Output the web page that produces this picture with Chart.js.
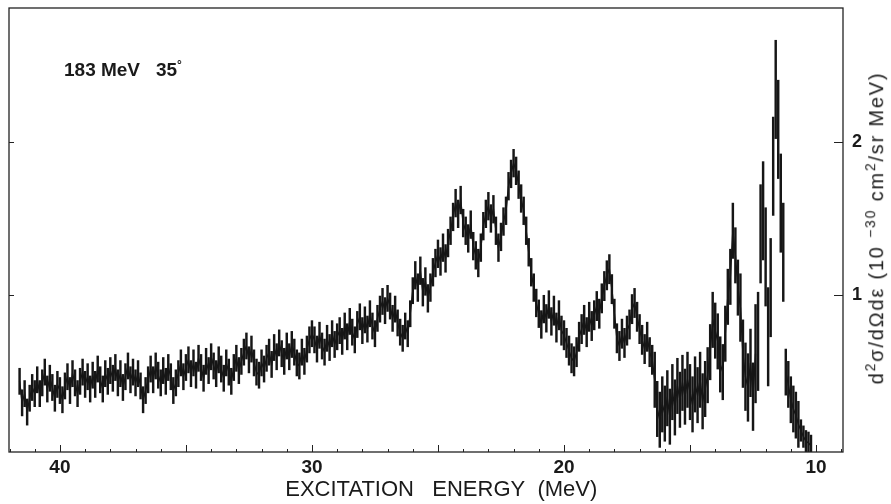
<!DOCTYPE html>
<html>
<head>
<meta charset="utf-8">
<script src="https://cdn.jsdelivr.net/npm/chart.js@4"></script>
<style>
  html, body { margin: 0; padding: 0; background: #fff; }
  #wrap { position: relative; width: 891px; height: 504px; }
  #note { position: absolute; left: 64px; top: 58px; font: bold 19px "Liberation Sans", Arial, sans-serif; color: #1a1a1a; white-space: pre; }
  #note sup { font-size: 12px; }
  #ytitle { position: absolute; left: 875px; top: 228px; transform: translate(-50%, -50%) rotate(-90deg);
            font: 20px "Liberation Sans", Arial, sans-serif; color: #1a1a1a; white-space: nowrap; letter-spacing: 1.8px; }
  #ytitle sup { font-size: 14px; }
</style>
</head>
<body>
<div id="wrap">
  <canvas id="c" width="891" height="504"></canvas>
  <div id="note">183 MeV   35<sup>°</sup></div>
  <div id="ytitle">d<sup>2</sup>σ/dΩdε (10 <sup>−30</sup> cm<sup>2</sup>/sr MeV)</div>
</div>
<script>
// Spectrum: excitation energy (MeV), cross section, error half-widths
const energies = [
  41.6,41.5,41.4,41.3,41.2,41.1,41.0,
  40.9,40.8,40.7,40.6,40.5,40.4,40.3,40.2,40.1,40.0,
  39.9,39.8,39.7,39.6,39.5,39.4,39.3,39.2,39.1,39.0,
  38.9,38.8,38.7,38.6,38.5,38.4,38.3,38.2,38.1,38.0,
  37.9,37.8,37.7,37.6,37.5,37.4,37.3,37.2,37.1,37.0,
  36.9,36.8,36.7,36.6,36.5,36.4,36.3,36.2,36.1,36.0,
  35.9,35.8,35.7,35.6,35.5,35.4,35.3,35.2,35.1,35.0,
  34.9,34.8,34.7,34.6,34.5,34.4,34.3,34.2,34.1,34.0,
  33.9,33.8,33.7,33.6,33.5,33.4,33.3,33.2,33.1,33.0,
  32.9,32.8,32.7,32.6,32.5,32.4,32.3,32.2,32.1,32.0,
  31.9,31.8,31.7,31.6,31.5,31.4,31.3,31.2,31.1,31.0,
  30.9,30.8,30.7,30.6,30.5,30.4,30.3,30.2,30.1,30.0,
  29.9,29.8,29.7,29.6,29.5,29.4,29.3,29.2,29.1,29.0,
  28.9,28.8,28.7,28.6,28.5,28.4,28.3,28.2,28.1,28.0,
  27.9,27.8,27.7,27.6,27.5,27.4,27.3,27.2,27.1,27.0,
  26.9,26.8,26.7,26.6,26.5,26.4,26.3,26.2,26.1,26.0,
  25.9,25.8,25.7,25.6,25.5,25.4,25.3,25.2,25.1,25.0,
  24.9,24.8,24.7,24.6,24.5,24.4,24.3,24.2,24.1,24.0,
  23.9,23.8,23.7,23.6,23.5,23.4,23.3,23.2,23.1,23.0,
  22.9,22.8,22.7,22.6,22.5,22.4,22.3,22.2,22.1,22.0,
  21.9,21.8,21.7,21.6,21.5,21.4,21.3,21.2,21.1,21.0,
  20.9,20.8,20.7,20.6,20.5,20.4,20.3,20.2,20.1,20.0,
  19.9,19.8,19.7,19.6,19.5,19.4,19.3,19.2,19.1,19.0,
  18.9,18.8,18.7,18.6,18.5,18.4,18.3,18.2,18.1,18.0,
  17.9,17.8,17.7,17.6,17.5,17.4,17.3,17.2,17.1,17.0,
  16.9,16.8,16.7,16.6,16.5,16.4,16.3,16.2,16.1,16.0,
  15.9,15.8,15.7,15.6,15.5,15.4,15.3,15.2,15.1,15.0,
  14.9,14.8,14.7,14.6,14.5,14.4,14.3,14.2,14.1,14.0,
  13.9,13.8,13.7,13.6,13.5,13.4,13.3,13.2,13.1,13.0,
  12.9,12.8,12.7,12.6,12.5,12.4,12.3,12.2,12.1,12.0,
  11.9,11.8,11.7,11.6,11.5,11.4,11.3,11.2,11.1,11.0,
  10.9,10.8,10.7,10.6,10.5,10.4,10.3,10.2
];
const sigma = [
  0.44,0.30,0.36,0.24,0.33,0.40,0.36,
  0.45,0.36,0.43,0.50,0.39,0.46,0.40,0.33,0.42,0.38,
  0.32,0.41,0.47,0.38,0.49,0.43,0.36,0.44,0.50,0.42,
  0.47,0.39,0.48,0.42,0.52,0.45,0.39,0.49,0.44,0.51,
  0.46,0.53,0.43,0.49,0.40,0.47,0.54,0.45,0.50,0.43,
  0.49,0.41,0.32,0.38,0.45,0.52,0.45,0.54,0.48,0.43,
  0.51,0.44,0.53,0.47,0.38,0.43,0.49,0.56,0.47,0.53,
  0.58,0.49,0.56,0.48,0.59,0.53,0.46,0.57,0.51,0.60,
  0.54,0.49,0.58,0.52,0.46,0.56,0.50,0.44,0.53,0.59,
  0.51,0.57,0.63,0.67,0.58,0.65,0.56,0.50,0.48,0.56,
  0.52,0.59,0.63,0.55,0.66,0.60,0.69,0.62,0.57,0.67,
  0.60,0.68,0.63,0.56,0.54,0.63,0.57,0.65,0.71,0.75,
  0.71,0.65,0.74,0.67,0.63,0.72,0.66,0.75,0.68,0.73,
  0.77,0.70,0.80,0.73,0.83,0.76,0.71,0.81,0.86,0.77,
  0.84,0.78,0.88,0.80,0.75,0.85,0.91,0.96,0.90,0.98,
  0.93,0.85,0.91,0.82,0.76,0.72,0.80,0.75,0.88,1.03,
  1.13,1.05,1.16,1.02,1.09,0.98,1.05,1.15,1.21,1.27,
  1.22,1.31,1.24,1.34,1.42,1.51,1.60,1.53,1.62,1.47,
  1.42,1.37,1.46,1.32,1.26,1.21,1.31,1.45,1.53,1.58,
  1.50,1.56,1.42,1.31,1.38,1.48,1.55,1.71,1.79,1.86,
  1.81,1.72,1.63,1.55,1.42,1.28,1.15,1.05,0.95,0.88,
  0.81,0.91,0.85,0.94,0.83,0.90,0.79,0.87,0.77,0.74,
  0.69,0.64,0.59,0.57,0.63,0.73,0.78,0.84,0.76,0.86,
  0.80,0.87,0.93,0.88,0.98,1.06,1.13,1.17,1.04,0.88,
  0.72,0.67,0.75,0.69,0.77,0.81,0.91,0.95,0.86,0.78,
  0.71,0.65,0.73,0.63,0.58,0.45,0.26,0.19,0.29,0.23,
  0.33,0.21,0.37,0.27,0.41,0.32,0.43,0.34,0.45,0.37,
  0.29,0.42,0.35,0.45,0.31,0.39,0.48,0.63,0.84,0.77,
  0.70,0.55,0.50,0.75,0.99,1.12,1.42,1.26,1.05,0.92,
  0.62,0.47,0.40,0.56,0.34,0.62,0.70,1.40,1.55,1.25,
  0.73,1.05,1.84,2.34,2.08,1.60,1.28,0.50,0.42,0.32,
  0.26,0.22,0.16,0.12,0.08,0.05,0.04,0.02
];
// error half-width by energy band (lower edge of band, MeV)
const errBandFrom = [26.0, 20.5, 16.5, 13.05, 12.45, 11.25, 10.65, 0];
const errBandSize = [0.085, 0.09, 0.095, 0.18, 0.22, 0.32, 0.15, 0.07];

const xTickValues = [9,10,11,12,13,14,15,16,17,18,19,20,21,22,23,24,25,26,27,28,29,30,31,32,33,34,35,36,37,38,39,40,41,42];
const xLabelValues = [10, 20, 30, 40];
const yTickValues = [1, 2];

function errFor(e) {
  for (let i = 0; i < errBandFrom.length; i++) if (e >= errBandFrom[i]) return errBandSize[i];
  return errBandSize[errBandSize.length - 1];
}

const ink = "#161616";
const centers = energies.map((e, i) => ({ x: e, y: sigma[i] }));
const bars = energies.map((e, i) => ({ x: e, y: [sigma[i] - errFor(e), sigma[i] + errFor(e)] }));

// frame + inward tick marks, placed through the chart's scales
const frameTicks = {
  id: "frameTicks",
  afterDatasetsDraw(chart) {
    const { ctx, chartArea: a, scales: { x, y } } = chart;
    ctx.save();
    ctx.strokeStyle = "#222";
    ctx.lineWidth = 1.3;
    ctx.strokeRect(a.left, a.top, a.right - a.left, a.bottom - a.top);
    ctx.lineWidth = 1;
    ctx.beginPath();
    xTickValues.forEach(v => {
      const px = Math.round(x.getPixelForValue(v)) + 0.5;
      const len = v % 5 === 0 ? 7 : 3;
      ctx.moveTo(px, a.bottom); ctx.lineTo(px, a.bottom - len);
    });
    yTickValues.forEach(v => {
      const py = Math.round(y.getPixelForValue(v)) + 0.5;
      ctx.moveTo(a.right, py); ctx.lineTo(a.right - 9, py);
      ctx.moveTo(a.left, py); ctx.lineTo(a.left + 5, py);
    });
    ctx.stroke();
    ctx.restore();
  }
};

new Chart(document.getElementById("c"), {
  type: "bar",
  data: {
    datasets: [
      {
        type: "line",
        data: centers,
        borderColor: ink,
        borderWidth: 1.4,
        pointRadius: 0,
        tension: 0,
        segment: {
          borderColor: c => (c.p0.parsed.x < 12.45 && c.p1.parsed.x > 11.15) ? "rgba(0,0,0,0)" : ink
        },
        order: 0
      },
      {
        type: "bar",
        data: bars,
        backgroundColor: ink,
        borderWidth: 0,
        barThickness: 1.8,
        order: 1
      }
    ]
  },
  options: {
    responsive: false,
    animation: false,
    layout: { padding: { left: 9, top: 8, right: 0, bottom: 0 } },
    plugins: { legend: { display: false }, tooltip: { enabled: false } },
    scales: {
      x: {
        type: "linear",
        reverse: true,
        min: 8.93,
        max: 42.02,
        offset: false,
        grid: { display: false, drawTicks: false },
        border: { display: false },
        afterFit: s => { s.height = 52; s.paddingLeft = 0; s.paddingRight = 0; },
        ticks: {
          stepSize: 1,
          includeBounds: false,
          autoSkip: false,
          maxRotation: 0,
          padding: 4,
          color: "#1a1a1a",
          font: { family: "Liberation Sans, Arial, sans-serif", size: 19, weight: "bold" },
          callback: v => xLabelValues.includes(v) ? String(v) : ""
        },
        title: {
          display: true,
          text: "     EXCITATION   ENERGY  (MeV)",
          color: "#1a1a1a",
          font: { family: "Liberation Sans Narrow, Liberation Sans, Arial, sans-serif", size: 22 },
          padding: { top: 0, bottom: 1 }
        }
      },
      y: {
        type: "linear",
        position: "right",
        min: -0.02,
        max: 2.87,
        grid: { display: false, drawTicks: false },
        border: { display: false },
        afterFit: s => { s.width = 48; s.paddingTop = 0; s.paddingBottom = 0; },
        ticks: {
          stepSize: 1,
          includeBounds: false,
          padding: 9,
          color: "#1a1a1a",
          font: { family: "Liberation Sans, Arial, sans-serif", size: 18, weight: "bold" },
          callback: v => yTickValues.includes(v) ? String(v) : ""
        }
      }
    }
  },
  plugins: [frameTicks]
});
</script>
</body>
</html>
